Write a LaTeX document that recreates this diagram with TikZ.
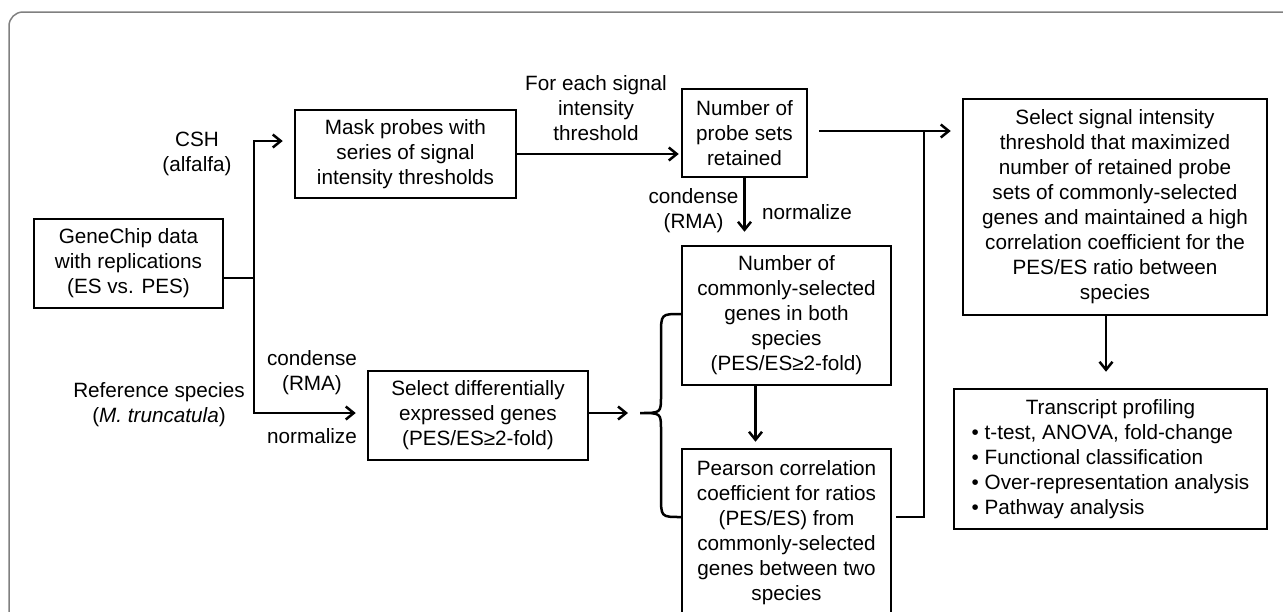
\documentclass[tikz,border=0pt]{standalone}
\usepackage{fontspec}
\setmainfont{Liberation Sans}
\usetikzlibrary{arrows.meta}

\begin{document}
\begin{tikzpicture}[x=1pt,y=-1pt,
        every node/.style={font=\fontsize{20.7}{25}\selectfont},
        box/.style={draw,line width=2.5pt,align=center,inner sep=2pt},
        lbl/.style={align=center,inner sep=0pt},
        con/.style={line width=2.5pt},
        arr/.style={line width=2.5pt,-{Straight Barb[length=8pt,width=13pt]}}]
            \useasboundingbox (0,0) rectangle (1283,611);
            \clip (0,0) rectangle (1283,611);
            \draw[black!50,line width=1.5pt,rounded corners=14pt] (9,660) -- (9,12) -- (1320,12);

            \node[box,minimum width=189pt,minimum height=89pt] (G) at (128.5,263.5) {GeneChip data\\with replications\\(ES vs. PES)};
            \node[box,minimum width=221pt,minimum height=88pt] (M) at (405.5,154) {Mask probes with\\series of signal\\intensity thresholds};
            \node[box,minimum width=125pt,minimum height=88pt] (N) at (744.5,133) {Number of\\probe sets\\retained};
            \node[box,minimum width=304pt,minimum height=216pt] (S) at (1115,207) {Select signal intensity\\threshold that maximized\\number of retained probe\\sets of commonly-selected\\genes and maintained a high\\correlation coefficient for the\\PES/ES ratio between\\species};
            \node[box,minimum width=220pt,minimum height=89pt] (D) at (478,415.5) {Select differentially\\expressed genes\\(PES/ES≥2-fold)};
            \node[box,minimum width=209pt,minimum height=139pt] (C) at (786.5,315.5) {Number of\\commonly-selected\\genes in both\\species\\(PES/ES≥2-fold)};
            \node[box,minimum width=209pt,minimum height=167pt] (P) at (786.5,532.5) {Pearson correlation\\coefficient for ratios\\(PES/ES) from\\commonly-selected\\genes between two\\species};
            \node[box,minimum width=313pt,minimum height=140pt] (T) at (1110.5,459) {\begin{tabular}{@{}l@{}}\multicolumn{1}{@{}c@{}}{Transcript profiling}\\• t-test, ANOVA, fold-change\\• Functional classification\\• Over-representation analysis\\• Pathway analysis\end{tabular}};

            \node[lbl] (csh) at (197,154) {CSH\\(alfalfa)};
            \node[lbl] (ref) at (159,404.5) {Reference species\\(\textit{M. truncatula})};
            \node[lbl] (each) at (596,108.5) {For each signal\\intensity\\threshold};
            \node[lbl] (cnd1) at (312,373) {condense\\(RMA)};
            \node[lbl] (nrm1) at (312,436) {normalize};
            \node[lbl] (cnd2) at (693.5,210.5) {condense\\(RMA)};
            \node[lbl] (nrm2) at (807,212) {normalize};

            \coordinate (J) at (254,278);
            \coordinate (Ju) at (254,141);
            \coordinate (Jd) at (254,413);
            \coordinate (B) at (640,413);
            \coordinate (K) at (924,131);
            \coordinate (L) at (924,517);

            \draw[con] (G.east |- J) -- (J);
            \draw[arr,shorten >=11pt] (J) -- (Ju) -- (Ju -| M.west);
            \draw[arr,shorten >=11pt] (J) -- (Jd) -- (Jd -| D.west);
            \draw[arr,shorten >=2pt] (M.east) -- (M.east -| N.west);
            \draw[arr,shorten >=13pt] (N.south) -- (N.south |- C.north);
            \draw[arr,shorten >=12pt] (Jd -| D.east) -- (B);
            \draw[con] (C.west |- 0,314) .. controls (661,314) .. (661,335) -- (661,396)
                .. controls (661,413) .. (B) .. controls (661,413) .. (661,430) -- (661,496)
                .. controls (661,517) .. (P.west |- L);
            \draw[arr,shorten >=6pt] ([xshift=-31pt]C.south) -- ([xshift=-31pt]P.north);
            \draw[arr,shorten <=11pt,shorten >=11pt] (N.east |- K) -- (K -| S.west);
            \draw[con,shorten <=4pt] (P.east |- L) -- (L) -- (K);
            \draw[arr,shorten >=16pt] ([xshift=-9pt]S.south) -- ([xshift=-9pt]S.south |- T.north);
        \end{tikzpicture}
\end{document}
